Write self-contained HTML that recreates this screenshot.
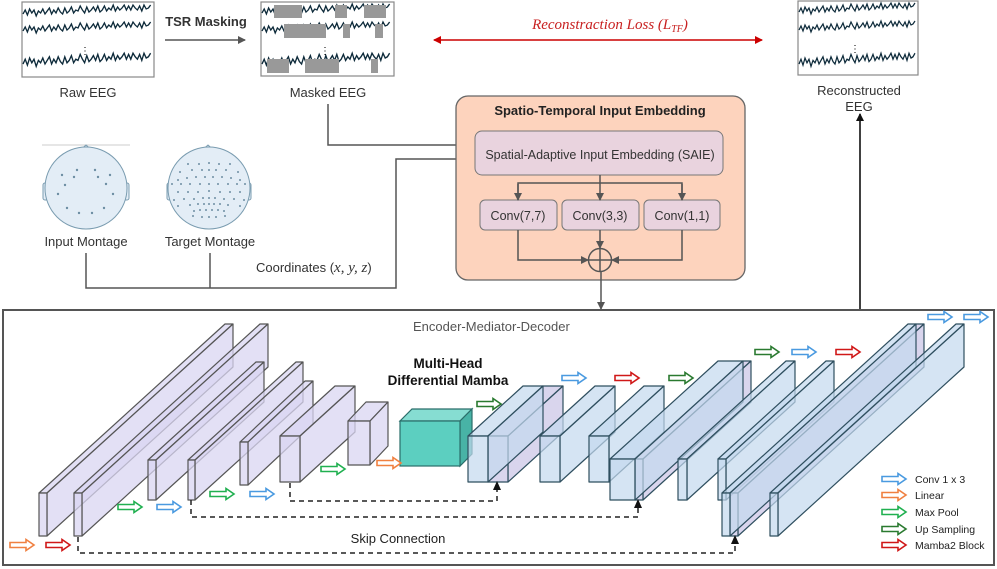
<!DOCTYPE html>
<html><head><meta charset="utf-8"><style>
html,body{margin:0;padding:0;background:#fff}
svg{display:block;font-family:"Liberation Sans",sans-serif}
</style></head><body>
<svg width="997" height="569" viewBox="0 0 997 569" xmlns="http://www.w3.org/2000/svg">
<defs>
<path id="ar" d="M0,-2.5 H16 V-5.5 L24,0 L16,5.5 V2.5 H0 Z" fill="#fff" stroke-width="1.6"/>
<path id="wv" d="M0,0 l2,-4 2,5 2,-6 2,4 2,-3 2,6 2,-5 2,2 2,-4 2,5 2,-3 2,-3 2,6 2,-4 2,3 2,-5 2,4 2,2 2,-6 2,5 2,-2 2,-4 2,6 2,-3 2,1 2,-5 2,4 2,3 2,-6 2,5 2,-2 2,-3 2,4 2,-5 2,6 2,-2 2,-4 2,5 2,-3 2,2 2,-5 2,6 2,-4 2,3 2,-2 2,-3 2,5 2,-4 2,4 2,-5 2,3 2,2 2,-4 2,5 2,-6 2,4 2,-1 2,-3" fill="none" stroke="#0d2a3a" stroke-width="1.2"/>
<marker id="ah" markerWidth="8" markerHeight="8" refX="7" refY="4" orient="auto" markerUnits="userSpaceOnUse"><path d="M0,0 L8,4 L0,8 Z" fill="#555"/></marker>
<marker id="ahk" markerWidth="8" markerHeight="8" refX="7" refY="4" orient="auto" markerUnits="userSpaceOnUse"><path d="M0,0 L8,4 L0,8 Z" fill="#111"/></marker>
<marker id="ahr" markerWidth="8" markerHeight="8" refX="7" refY="4" orient="auto-start-reverse" markerUnits="userSpaceOnUse"><path d="M0,0 L8,4 L0,8 Z" fill="#c00"/></marker>
</defs>

<rect x="22" y="2" width="132" height="75" fill="#fff" stroke="#888" stroke-width="1.2"/>
<use href="#wv" transform="translate(23,14) scale(1.1,1)"/>
<use href="#wv" transform="translate(23,31) scale(1.1,1)"/>
<use href="#wv" transform="translate(23,64) scale(1.1,1.2)"/>
<text x="85" y="54" font-size="10" text-anchor="middle">⋮</text>
<text x="88" y="97" font-size="13" text-anchor="middle" fill="#333">Raw EEG</text>

<text x="206" y="26" font-size="13" font-weight="bold" text-anchor="middle" fill="#333">TSR Masking</text>
<line x1="165" y1="40" x2="245" y2="40" stroke="#555" stroke-width="1.5" marker-end="url(#ah)"/>

<rect x="261" y="2" width="133" height="74" fill="#fff" stroke="#888" stroke-width="1.2"/>
<use href="#wv" transform="translate(262,13) scale(1.1,1)"/>
<use href="#wv" transform="translate(262,31) scale(1.1,1)"/>
<use href="#wv" transform="translate(262,64) scale(1.1,1.2)"/>
<g fill="#999">
<rect x="274" y="5" width="28" height="13"/><rect x="335" y="5" width="12" height="13"/><rect x="364" y="5" width="22" height="13"/>
<rect x="284" y="24" width="42" height="14"/><rect x="343" y="24" width="7" height="14"/><rect x="375" y="24" width="8" height="14"/>
<rect x="267" y="59" width="22" height="14"/><rect x="305" y="59" width="34" height="14"/><rect x="371" y="59" width="7" height="14"/>
</g>
<text x="325" y="54" font-size="10" text-anchor="middle">⋮</text>
<text x="328" y="97" font-size="13" text-anchor="middle" fill="#333">Masked EEG</text>

<text x="610" y="29" font-size="15" font-style="italic" text-anchor="middle" fill="#c82020" font-family="Liberation Serif,serif">Reconstraction Loss (<tspan>L</tspan><tspan font-size="10" dy="3">TF</tspan><tspan dy="-3">)</tspan></text>
<line x1="434" y1="40" x2="762" y2="40" stroke="#c00" stroke-width="1.5" marker-start="url(#ahr)" marker-end="url(#ahr)"/>

<rect x="798" y="1" width="120" height="74" fill="#fff" stroke="#888" stroke-width="1.2"/>
<use href="#wv" transform="translate(799,12) scale(1,1)"/>
<use href="#wv" transform="translate(799,30) scale(1,1)"/>
<use href="#wv" transform="translate(799,64) scale(1,1.2)"/>
<text x="855" y="52" font-size="10" text-anchor="middle">⋮</text>
<text x="859" y="95" font-size="13" text-anchor="middle" fill="#333">Reconstructed</text>
<text x="859" y="111" font-size="13" text-anchor="middle" fill="#333">EEG</text>
<line x1="860" y1="310" x2="860" y2="114" stroke="#111" stroke-width="1.6" marker-end="url(#ahk)"/>

<line x1="42" y1="145" x2="130" y2="145" stroke="#ccc"/>
<g stroke="#7a9cb0" stroke-width="1" fill="#e3edf6">
<path d="M78,152 L86,145 L94,152 Z"/><path d="M200,152 L208,145 L216,152 Z"/>
<rect x="43" y="183" width="6" height="17" rx="2"/><rect x="123" y="183" width="6" height="17" rx="2"/>
<rect x="167" y="183" width="6" height="17" rx="2"/><rect x="245" y="183" width="6" height="17" rx="2"/>
<circle cx="86" cy="188" r="41"/><circle cx="209" cy="188" r="41"/>
</g>
<g fill="#6d8ea3">
<circle cx="62" cy="175" r="1.2"/><circle cx="77" cy="170" r="1.2"/><circle cx="95" cy="170" r="1.2"/><circle cx="110" cy="175" r="1.2"/>
<circle cx="74" cy="177" r="1.2"/><circle cx="98" cy="177" r="1.2"/><circle cx="65" cy="185" r="1.2"/><circle cx="106" cy="184" r="1.2"/>
<circle cx="58" cy="194" r="1.2"/><circle cx="113" cy="194" r="1.2"/><circle cx="67" cy="208" r="1.2"/><circle cx="104" cy="208" r="1.2"/>
<circle cx="79" cy="213" r="1.2"/><circle cx="92" cy="213" r="1.2"/>
</g>
<g fill="#6d8ea3">
<circle cx="188" cy="164" r="1"/><circle cx="199" cy="164" r="1"/><circle cx="209" cy="163" r="1"/><circle cx="219" cy="164" r="1"/><circle cx="230" cy="164" r="1"/>
<circle cx="180" cy="172" r="1"/><circle cx="192" cy="170" r="1"/><circle cx="202" cy="170" r="1"/><circle cx="209" cy="170" r="1"/><circle cx="216" cy="170" r="1"/><circle cx="226" cy="170" r="1"/><circle cx="238" cy="172" r="1"/>
<circle cx="178" cy="180" r="1"/><circle cx="187" cy="178" r="1"/><circle cx="196" cy="177" r="1"/><circle cx="205" cy="177" r="1"/><circle cx="213" cy="177" r="1"/><circle cx="222" cy="177" r="1"/><circle cx="231" cy="178" r="1"/><circle cx="240" cy="180" r="1"/>
<circle cx="172" cy="184" r="1"/><circle cx="181" cy="184" r="1"/><circle cx="190" cy="184" r="1"/><circle cx="200" cy="184" r="1"/><circle cx="209" cy="184" r="1"/><circle cx="218" cy="184" r="1"/><circle cx="228" cy="184" r="1"/><circle cx="237" cy="184" r="1"/><circle cx="245" cy="184" r="1"/>
<circle cx="178" cy="192" r="1"/><circle cx="188" cy="192" r="1"/><circle cx="198" cy="192" r="1"/><circle cx="209" cy="191" r="1"/><circle cx="220" cy="192" r="1"/><circle cx="230" cy="192" r="1"/><circle cx="240" cy="192" r="1"/>
<circle cx="174" cy="200" r="1"/><circle cx="184" cy="199" r="1"/><circle cx="194" cy="199" r="1"/><circle cx="203" cy="198" r="1"/><circle cx="209" cy="198" r="1"/><circle cx="215" cy="198" r="1"/><circle cx="224" cy="199" r="1"/><circle cx="234" cy="199" r="1"/><circle cx="244" cy="200" r="1"/>
<circle cx="178" cy="206" r="1"/><circle cx="190" cy="205" r="1"/><circle cx="198" cy="204" r="1"/><circle cx="204" cy="204" r="1"/><circle cx="209" cy="204" r="1"/><circle cx="214" cy="204" r="1"/><circle cx="220" cy="204" r="1"/><circle cx="228" cy="205" r="1"/><circle cx="240" cy="206" r="1"/>
<circle cx="194" cy="211" r="1"/><circle cx="200" cy="210" r="1"/><circle cx="206" cy="210" r="1"/><circle cx="212" cy="210" r="1"/><circle cx="218" cy="210" r="1"/><circle cx="224" cy="211" r="1"/>
<circle cx="193" cy="216" r="1"/><circle cx="202" cy="217" r="1"/><circle cx="209" cy="217" r="1"/><circle cx="216" cy="217" r="1"/><circle cx="225" cy="216" r="1"/>
</g>
<text x="86" y="246" font-size="13" text-anchor="middle" fill="#333">Input Montage</text>
<text x="210" y="246" font-size="13" text-anchor="middle" fill="#333">Target Montage</text>

<g fill="none" stroke="#555" stroke-width="1.5">
<polyline points="86,253 86,288 396,288 396,159 475,159" marker-end="url(#ah)"/>
<line x1="210" y1="253" x2="210" y2="288"/>
<polyline points="328,104 328,145 475,145" marker-end="url(#ah)"/>
</g>
<text x="256" y="272" font-size="13" fill="#333">Coordinates (<tspan font-family="Liberation Serif,serif" font-style="italic" font-size="15">x, y, z</tspan>)</text>

<rect x="456" y="96" width="289" height="184" rx="12" fill="#fdd3bd" stroke="#666" stroke-width="1.3"/>
<text x="600" y="115" font-size="13" font-weight="bold" text-anchor="middle" fill="#222">Spatio-Temporal Input Embedding</text>
<rect x="475" y="131" width="248" height="44" rx="7" fill="#e9d3de" stroke="#777"/>
<text x="600" y="159" font-size="12.5" text-anchor="middle" fill="#333">Spatial-Adaptive Input Embedding (SAIE)</text>
<rect x="480" y="200" width="77" height="30" rx="5" fill="#e9d3de" stroke="#777"/>
<rect x="562" y="200" width="77" height="30" rx="5" fill="#e9d3de" stroke="#777"/>
<rect x="644" y="200" width="76" height="30" rx="5" fill="#e9d3de" stroke="#777"/>
<text x="518" y="220" font-size="12.5" text-anchor="middle" fill="#333">Conv(7,7)</text>
<text x="600" y="220" font-size="12.5" text-anchor="middle" fill="#333">Conv(3,3)</text>
<text x="682" y="220" font-size="12.5" text-anchor="middle" fill="#333">Conv(1,1)</text>
<g fill="none" stroke="#555" stroke-width="1.5">
<line x1="600" y1="175" x2="600" y2="200" marker-end="url(#ah)"/>
<polyline points="518,200 518,183 682,183 682,200"/>
<line x1="518" y1="184" x2="518" y2="200" marker-end="url(#ah)"/>
<line x1="682" y1="184" x2="682" y2="200" marker-end="url(#ah)"/>
<line x1="600" y1="230" x2="600" y2="248" marker-end="url(#ah)"/>
<polyline points="518,230 518,260 588,260" marker-end="url(#ah)"/>
<polyline points="682,230 682,260 612,260" marker-end="url(#ah)"/>
<circle cx="600" cy="260" r="11.5"/>
<line x1="588" y1="260" x2="612" y2="260"/><line x1="600" y1="248" x2="600" y2="272"/>
<line x1="601" y1="272" x2="601" y2="309" marker-end="url(#ah)"/>
</g>

<rect x="3" y="310" width="991" height="255" fill="#fff" stroke="#555" stroke-width="2"/>
<text x="413" y="331" font-size="13" fill="#555">Encoder-Mediator-Decoder</text>

<g fill="#d9d6f2" fill-opacity="0.75" stroke="#555" stroke-width="1.2" stroke-linejoin="round">
<polygon points="39,493 47,493 233,324 225,324"/><polygon points="47,493 233,324 233,367 47,536"/><rect x="39" y="493" width="8" height="43"/>
<polygon points="74,493 82,493 268,324 260,324"/><polygon points="82,493 268,324 268,367 82,536"/><rect x="74" y="493" width="8" height="43"/>
<polygon points="148,460 156,460 264,362 256,362"/><polygon points="156,460 264,362 264,402 156,500"/><rect x="148" y="460" width="8" height="40"/>
<polygon points="188,460 195,460 303,362 296,362"/><polygon points="195,460 303,362 303,402 195,500"/><rect x="188" y="460" width="7" height="40"/>
<polygon points="240,442 248,442 313,381 305,381"/><polygon points="248,442 313,381 313,424 248,485"/><rect x="240" y="442" width="8" height="43"/>
<polygon points="280,436 300,436 355,386 335,386"/><polygon points="300,436 355,386 355,432 300,482"/><rect x="280" y="436" width="20" height="46"/>
<polygon points="348,421 370,421 388,402 366,402"/><polygon points="370,421 388,402 388,446 370,465"/><rect x="348" y="421" width="22" height="44"/>
</g>
<g fill="#5ccfc0" stroke="#2a6e6a" stroke-width="1.2">
<polygon points="400,421 460,421 472,409 412,409" fill="#86ddd2"/><polygon points="460,421 472,409 472,454 460,466" fill="#48b3a6"/><rect x="400" y="421" width="60" height="45"/>
</g>
<text x="448" y="368" font-size="13.5" font-weight="bold" text-anchor="middle" fill="#111">Multi-Head</text>
<text x="448" y="385" font-size="13.5" font-weight="bold" text-anchor="middle" fill="#111">Differential Mamba</text>

<g fill="#c3d9ee" fill-opacity="0.7" stroke="#2f4f5f" stroke-width="1.2" stroke-linejoin="round">
<g fill="#c9c3e6"><polygon points="488,436 508,436 563,386 543,386"/><polygon points="508,436 563,386 563,432 508,482"/><rect x="488" y="436" width="20" height="46"/></g>
<polygon points="468,436 488,436 543,386 523,386"/><polygon points="488,436 543,386 543,432 488,482"/><rect x="468" y="436" width="20" height="46"/>
<polygon points="540,436 560,436 615,386 595,386"/><polygon points="560,436 615,386 615,432 560,482"/><rect x="540" y="436" width="20" height="46"/>
<polygon points="589,436 609,436 664,386 644,386"/><polygon points="609,436 664,386 664,432 609,482"/><rect x="589" y="436" width="20" height="46"/>
<g fill="#c9c3e6"><polygon points="635,459 643,459 751,361 743,361"/><polygon points="643,459 751,361 751,402 643,500"/><rect x="635" y="459" width="8" height="41"/></g>
<polygon points="610,459 635,459 743,361 718,361"/><polygon points="635,459 743,361 743,402 635,500"/><rect x="610" y="459" width="25" height="41"/>
<polygon points="678,459 687,459 795,361 786,361"/><polygon points="687,459 795,361 795,402 687,500"/><rect x="678" y="459" width="9" height="41"/>
<polygon points="718,459 726,459 834,361 826,361"/><polygon points="726,459 834,361 834,402 726,500"/><rect x="718" y="459" width="8" height="41"/>
<g fill="#c9c3e6"><polygon points="730,493 738,493 924,324 916,324"/><polygon points="738,493 924,324 924,367 738,536"/><rect x="730" y="493" width="8" height="43"/></g>
<polygon points="722,493 730,493 916,324 908,324"/><polygon points="730,493 916,324 916,367 730,536"/><rect x="722" y="493" width="8" height="43"/>
<polygon points="770,493 778,493 964,324 956,324"/><polygon points="778,493 964,324 964,367 778,536"/><rect x="770" y="493" width="8" height="43"/>
</g>

<g fill="none" stroke="#222" stroke-width="1.5" stroke-dasharray="5,4">
<polyline points="290,483 290,501 497,501 497,484"/>
<polyline points="191,500 191,517 638,517 638,502"/>
<polyline points="78,537 78,553 735,553 735,538"/>
</g>
<g fill="#111">
<path d="M497,481 L493,490 L501,490 Z"/><path d="M638,499 L634,508 L642,508 Z"/><path d="M735,535 L731,544 L739,544 Z"/>
</g>
<text x="398" y="543" font-size="13" text-anchor="middle" fill="#222">Skip Connection</text>

<use href="#ar" x="10" y="545" stroke="#f08040"/>
<use href="#ar" x="46" y="545" stroke="#d01818"/>
<use href="#ar" x="118" y="507" stroke="#20b050"/>
<use href="#ar" x="157" y="507" stroke="#4a9ae0"/>
<use href="#ar" x="210" y="494" stroke="#20b050"/>
<use href="#ar" x="250" y="494" stroke="#4a9ae0"/>
<use href="#ar" x="321" y="469" stroke="#20b050"/>
<use href="#ar" x="377" y="463" stroke="#f08040"/>
<use href="#ar" x="477" y="404" stroke="#2a7a30"/>
<use href="#ar" x="562" y="378" stroke="#4a9ae0"/>
<use href="#ar" x="615" y="378" stroke="#d01818"/>
<use href="#ar" x="669" y="378" stroke="#2a7a30"/>
<use href="#ar" x="755" y="352" stroke="#2a7a30"/>
<use href="#ar" x="792" y="352" stroke="#4a9ae0"/>
<use href="#ar" x="836" y="352" stroke="#d01818"/>
<use href="#ar" x="928" y="317" stroke="#4a9ae0"/>
<use href="#ar" x="964" y="317" stroke="#4a9ae0"/>

<use href="#ar" x="882" y="479" stroke="#4a9ae0"/>
<use href="#ar" x="882" y="495" stroke="#f08040"/>
<use href="#ar" x="882" y="512" stroke="#20b050"/>
<use href="#ar" x="882" y="529" stroke="#2a7a30"/>
<use href="#ar" x="882" y="545" stroke="#d01818"/>
<g font-size="10.5" fill="#222">
<text x="915" y="483">Conv 1 x 3</text>
<text x="915" y="499">Linear</text>
<text x="915" y="516">Max Pool</text>
<text x="915" y="533">Up Sampling</text>
<text x="915" y="549">Mamba2 Block</text>
</g>
</svg>
</body></html>
